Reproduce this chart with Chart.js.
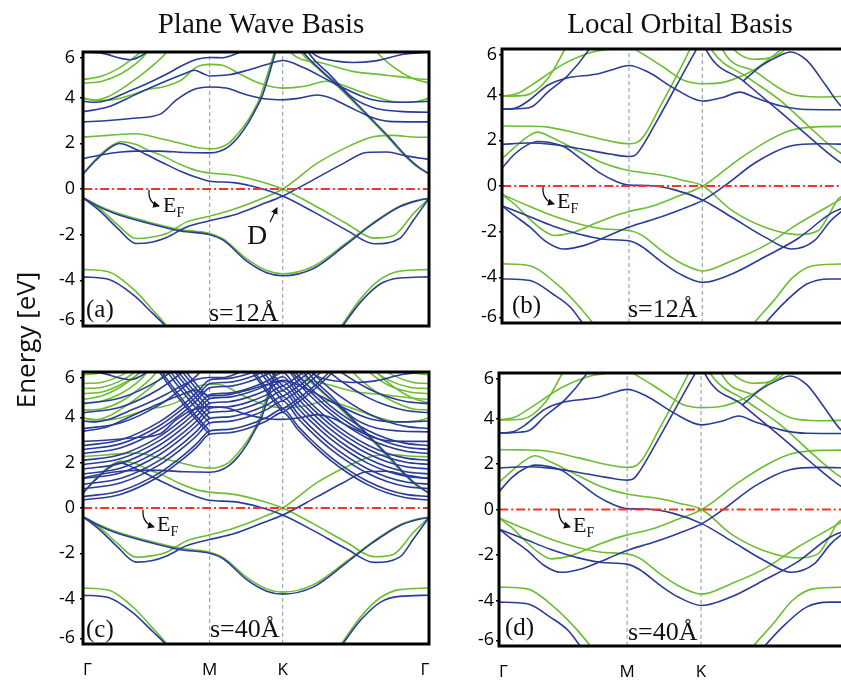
<!DOCTYPE html>
<html><head><meta charset="utf-8">
<script src="https://cdn.jsdelivr.net/npm/chart.js@4.4.1/dist/chart.umd.min.js"></script>
<style>
html,body{margin:0;padding:0;background:#fff;}
body{width:841px;height:682px;overflow:hidden;position:relative;}
canvas{position:absolute;}
.t{position:absolute;font-family:'Liberation Serif','Times New Roman',serif;color:#111;line-height:1;white-space:nowrap;}
.ttl{font-size:29px;transform:translateX(-50%);}
.lab{font-size:25px;}
.sv{font-size:26px;}
.ef{font-size:22px;}
.ef sub{font-size:14px;vertical-align:baseline;position:relative;top:5px;}
#ylab{position:absolute;left:25px;top:340px;transform:translate(-50%,-50%) rotate(-90deg);font-family:'Open Sans',sans-serif;font-size:26px;color:#111;white-space:nowrap;}
svg{position:absolute;left:0;top:0;}
</style></head><body>
<canvas id="pa"></canvas><canvas id="pb"></canvas><canvas id="pc"></canvas><canvas id="pd"></canvas>

<div class="t ttl" style="left:261px;top:9px;">Plane Wave Basis</div>
<div class="t ttl" style="left:680px;top:9px;">Local Orbital Basis</div>
<div id="ylab">Energy [eV]</div>

<div class="t lab" style="left:86px;top:296px;">(a)</div>
<div class="t sv" style="left:209px;top:300px;">s=12Å</div>
<div class="t ef" style="left:163px;top:194px;">E<sub>F</sub></div>
<div class="t" style="left:247px;top:221px;font-size:28px;">D</div>

<div class="t lab" style="left:512px;top:292px;">(b)</div>
<div class="t sv" style="left:628px;top:296px;">s=12Å</div>
<div class="t ef" style="left:557px;top:190px;">E<sub>F</sub></div>

<div class="t lab" style="left:86px;top:616px;">(c)</div>
<div class="t sv" style="left:210px;top:616px;">s=40Å</div>
<div class="t ef" style="left:157px;top:513px;">E<sub>F</sub></div>

<div class="t lab" style="left:505px;top:614px;">(d)</div>
<div class="t sv" style="left:628px;top:619px;">s=40Å</div>
<div class="t ef" style="left:573px;top:514px;">E<sub>F</sub></div>

<svg width="841" height="682" viewBox="0 0 841 682">
<defs><marker id="ah" markerUnits="userSpaceOnUse" markerWidth="8" markerHeight="8" refX="6" refY="3.5" orient="auto"><path d="M0,0 L7,3.5 L0,7 z" fill="#111"/></marker></defs>
<g fill="none" stroke="#111" stroke-width="1.3" marker-end="url(#ah)">
<path d="M149,190 Q148,203 159,206"/>
<path d="M543,187 Q542,200 554,204"/>
<path d="M143,510 Q142,523 154,527"/>
<path d="M559,509 Q558,523 570,527"/>
<path d="M270,222 L277,208"/>
</g></svg>

<script>
// ---------- path / axes ----------
const K_POS = [0, 1, 1.577, 2.732];
const K_LABEL_POS = [0.035, 1, 1.577, 2.70];
const K_LABELS = ['Γ', 'M', 'K', 'Γ'];
const E_MIN = -6, E_MAX = 6;
const Y_TICK_POS = [-5.75, -4, -2, 0, 2, 4, 5.75];
const Y_TICK_LABELS = ['-6', '-4', '-2', '0', '2', '4', '6'];

// ---------- (a) plane wave, s=12 ----------
const A_GREEN = [
 [[0,-3.53],[0.2,-3.62],[0.4,-4.4],[0.55,-5.3],[0.66,-6.0],[0.8,-7.2]],
 [[1.9,-7.2],[2.04,-6.0],[2.2,-4.75],[2.35,-3.95],[2.5,-3.6],[2.732,-3.53]],
 [[0,-0.38],[0.12,-0.72],[0.24,-1.0],[0.5,-1.42],[0.77,-1.78],[1.0,-1.95],[1.11,-2.2],[1.29,-3.05],[1.45,-3.57],[1.577,-3.71],[1.82,-3.38],[2.08,-2.36],[2.29,-1.48],[2.5,-0.75],[2.65,-0.48],[2.732,-0.41]],
 [[0,-0.38],[0.13,-0.85],[0.27,-1.55],[0.42,-2.17],[0.55,-2.1],[0.66,-1.95],[0.82,-1.44],[1.0,-1.19],[1.19,-0.89],[1.4,-0.45],[1.577,0],[1.85,1.13],[2.11,1.9],[2.3,2.3],[2.45,2.35],[2.6,2.28],[2.732,2.26]],
 [[0,0.66],[0.1,1.3],[0.2,1.8],[0.3,2.07],[0.42,1.95],[0.5,1.73],[0.63,1.45],[0.77,1.07],[0.9,0.8],[1.0,0.7],[1.19,0.6],[1.4,0.33],[1.577,0],[1.82,-0.7],[2.08,-1.51],[2.3,-2.15],[2.45,-2.05],[2.61,-1.07],[2.732,-0.41]],
 [[0,2.27],[0.2,2.35],[0.42,2.42],[0.6,2.22],[0.77,2.0],[0.9,1.82],[1.0,1.76],[1.07,1.8],[1.15,2.0],[1.22,2.4],[1.29,2.9],[1.35,3.45],[1.4,4.05],[1.45,4.9],[1.5,5.8],[1.54,6.6]],
 [[1.66,6.6],[1.72,6.0],[1.85,5.3],[2.0,4.55],[2.13,3.85],[2.27,3.05],[2.4,2.3],[2.53,1.51],[2.63,1.0],[2.732,0.66]],
 [[0,4.79],[0.15,4.95],[0.3,5.35],[0.4,5.75],[0.47,6.1],[0.52,6.6]],
 [[0,4.63],[0.15,4.72],[0.3,5.05],[0.42,5.5],[0.5,5.95],[0.56,6.6]],
 [[0,3.97],[0.1,3.9],[0.2,4.05],[0.32,4.44],[0.45,4.95],[0.57,5.5],[0.66,6.0],[0.72,6.6]],
 [[0,3.97],[0.1,3.88],[0.25,3.92],[0.4,4.15],[0.5,4.35],[0.63,4.47],[0.77,4.75],[0.9,5.35],[1.0,5.46],[1.1,5.42],[1.25,5.0],[1.4,4.62],[1.577,4.42],[1.75,4.5],[1.92,4.72],[2.1,4.45],[2.3,4.05],[2.5,3.8],[2.62,3.82],[2.732,3.98]],
 [[1.6,6.6],[1.64,5.98],[1.87,5.54],[2.13,5.15],[2.4,4.98],[2.6,4.85],[2.732,4.79]],
 [[2.25,6.6],[2.32,6.0],[2.45,5.35],[2.6,4.85],[2.732,4.64]]
];
const A_BLUE = [
 [[0,-3.85],[0.2,-3.95],[0.4,-4.65],[0.55,-5.45],[0.65,-6.0],[0.8,-7.2]],
 [[1.9,-7.2],[2.05,-6.0],[2.2,-4.9],[2.35,-4.15],[2.5,-3.9],[2.732,-3.85]],
 [[0,-0.38],[0.12,-0.76],[0.24,-1.05],[0.5,-1.48],[0.77,-1.84],[1.0,-2.0],[1.11,-2.25],[1.29,-3.15],[1.45,-3.67],[1.577,-3.8],[1.82,-3.48],[2.08,-2.42],[2.29,-1.52],[2.5,-0.78],[2.65,-0.5],[2.732,-0.41]],
 [[0,-0.38],[0.13,-0.95],[0.27,-1.7],[0.42,-2.39],[0.55,-2.32],[0.66,-2.12],[0.82,-1.66],[1.0,-1.39],[1.19,-1.14],[1.4,-0.7],[1.577,-0.31],[1.85,0.5],[2.05,1.1],[2.24,1.6],[2.4,1.62],[2.55,1.45],[2.732,1.3]],
 [[0,0.66],[0.1,1.25],[0.2,1.75],[0.29,1.99],[0.4,1.78],[0.5,1.51],[0.63,1.15],[0.77,0.78],[0.9,0.5],[1.0,0.34],[1.19,0.28],[1.4,0.03],[1.577,-0.31],[1.82,-1.0],[2.08,-1.8],[2.3,-2.4],[2.5,-2.17],[2.61,-1.36],[2.732,-0.41]],
 [[0,1.33],[0.15,1.5],[0.3,1.62],[0.42,1.66],[0.6,1.66],[0.8,1.6],[1.0,1.58],[1.08,1.65],[1.16,1.9],[1.23,2.3],[1.3,2.85],[1.36,3.45],[1.41,4.0],[1.46,4.85],[1.51,5.8],[1.55,6.6]],
 [[1.68,6.6],[1.74,6.0],[1.87,5.25],[2.02,4.5],[2.15,3.8],[2.29,3.0],[2.42,2.25],[2.55,1.45],[2.64,1.0],[2.732,0.66]],
 [[0,2.94],[0.2,3.0],[0.4,3.1],[0.61,3.28],[0.74,3.91],[0.87,4.35],[1.0,4.47],[1.13,4.42],[1.29,4.13],[1.45,3.94],[1.577,3.91],[1.7,3.97],[1.85,4.12],[1.95,4.0],[2.1,3.6],[2.3,3.1],[2.45,2.95],[2.732,2.94]],
 [[0,3.38],[0.2,3.6],[0.4,4.1],[0.6,4.6],[0.8,5.05],[0.88,5.2],[0.95,5.05],[1.0,4.95],[1.15,5.0],[1.3,5.2],[1.45,5.45],[1.577,5.63],[1.74,5.32],[2.0,4.58],[2.27,3.93],[2.5,3.8],[2.732,3.84]],
 [[0,3.84],[0.1,3.8],[0.2,3.9],[0.35,4.25],[0.5,4.6],[0.65,5.0],[0.8,5.45],[0.9,5.68],[1.0,5.76],[1.1,5.75],[1.2,5.9],[1.3,6.2],[1.38,6.6]],
 [[1.72,6.6],[1.79,5.9],[1.95,5.0],[2.13,4.0],[2.3,3.55],[2.5,3.4],[2.732,3.36]],
 [[0,6.0],[0.15,5.95],[0.3,5.72],[0.37,5.66],[0.45,5.8],[0.52,6.1],[0.58,6.6]],
 [[1.7,6.6],[1.8,6.0],[1.87,5.76],[2.0,5.6],[2.13,5.54],[2.31,5.61],[2.53,5.9],[2.732,6.0]]
];

// ---------- (b) local orbital, s=12 (also used for (d)) ----------
const B_GREEN = [
 [[0,-3.41],[0.22,-3.49],[0.43,-4.29],[0.59,-5.17],[0.71,-5.97],[0.85,-7.0]],
 [[1.85,-7.0],[1.99,-5.97],[2.14,-5.02],[2.29,-4.0],[2.45,-3.49],[2.732,-3.41]],
 [[0,-0.37],[0.1,-0.8],[0.2,-1.35],[0.3,-1.85],[0.41,-2.17],[0.55,-2.05],[0.75,-1.6],[0.9,-1.28],[1.0,-1.12],[1.2,-0.85],[1.4,-0.42],[1.583,0],[1.87,1.19],[2.1,2.0],[2.27,2.43],[2.5,2.6],[2.732,2.61]],
 [[0,-0.37],[0.2,-0.85],[0.4,-1.3],[0.6,-1.65],[0.8,-1.88],[1.0,-1.95],[1.1,-2.15],[1.25,-2.8],[1.4,-3.35],[1.583,-3.72],[1.81,-3.27],[2.07,-2.61],[2.33,-1.66],[2.55,-0.95],[2.732,-0.37]],
 [[0,1.19],[0.1,1.7],[0.2,2.15],[0.28,2.36],[0.4,2.1],[0.62,1.48],[0.8,1.0],[1.0,0.68],[1.27,0.46],[1.43,0.24],[1.583,0],[1.81,-1.07],[2.07,-1.81],[2.33,-2.13],[2.49,-1.95],[2.58,-1.2],[2.65,-0.55],[2.732,-0.37]],
 [[0,2.63],[0.18,2.62],[0.36,2.58],[0.62,2.27],[0.89,1.92],[1.0,1.85],[1.06,1.9],[1.12,2.21],[1.25,3.53],[1.39,4.99],[1.48,5.99],[1.53,6.6]],
 [[0,3.93],[0.18,3.97],[0.36,4.7],[0.49,5.94],[0.55,6.6]],
 [[0,3.93],[0.12,4.05],[0.23,4.41],[0.49,5.36],[0.7,5.85],[0.86,6.0],[1.0,6.1],[1.06,5.94],[1.27,5.21],[1.43,4.63],[1.583,4.48],[1.75,4.55],[1.9,4.85],[2.0,5.14],[2.1,5.55],[2.2,6.0],[2.3,6.6]],
 [[1.7,6.6],[1.74,5.94],[2.0,4.99],[2.27,4.04],[2.5,3.9],[2.732,3.93]],
 [[1.6,6.6],[1.65,5.97],[1.93,4.77],[2.19,3.75],[2.45,2.43],[2.6,1.7],[2.732,1.19]],
 [[1.75,6.5],[1.85,5.85],[1.98,5.55],[2.1,5.6],[2.2,5.85],[2.3,6.5]]
];
const B_BLUE = [
 [[0,-4.07],[0.22,-4.14],[0.4,-4.73],[0.54,-5.32],[0.63,-5.97],[0.75,-6.9]],
 [[1.95,-6.9],[2.08,-5.97],[2.24,-5.02],[2.4,-4.29],[2.58,-4.07],[2.732,-4.07]],
 [[0,-0.86],[0.1,-1.3],[0.22,-1.8],[0.35,-2.45],[0.48,-2.76],[0.65,-2.6],[0.85,-2.15],[1.0,-1.8],[1.2,-1.45],[1.4,-1.05],[1.583,-0.62],[1.75,0.0],[2.0,1.04],[2.27,1.75],[2.5,1.85],[2.732,1.82]],
 [[0,-0.86],[0.2,-1.3],[0.4,-1.75],[0.6,-2.1],[0.8,-2.33],[1.0,-2.4],[1.1,-2.65],[1.25,-3.3],[1.4,-3.85],[1.583,-4.22],[1.81,-3.85],[2.07,-3.1],[2.33,-2.3],[2.59,-1.2],[2.732,-0.86]],
 [[0,0.78],[0.1,1.4],[0.2,1.8],[0.28,1.95],[0.38,1.9],[0.49,1.72],[0.62,1.2],[0.76,0.61],[0.9,0.2],[1.0,0.04],[1.15,0.02],[1.36,-0.17],[1.583,-0.62],[1.81,-1.37],[2.07,-2.24],[2.28,-2.76],[2.46,-2.39],[2.59,-1.51],[2.732,-0.86]],
 [[0,1.82],[0.2,1.88],[0.4,1.82],[0.62,1.63],[0.85,1.4],[1.0,1.29],[1.05,1.35],[1.1,1.7],[1.23,2.95],[1.36,4.26],[1.49,5.58],[1.54,6.1],[1.57,6.6]],
 [[0,3.36],[0.1,3.38],[0.23,3.46],[0.36,4.11],[0.52,4.85],[0.68,5.94],[0.75,6.6]],
 [[0,3.36],[0.1,3.4],[0.2,3.7],[0.36,4.41],[0.49,4.7],[0.76,4.92],[0.9,5.15],[1.0,5.28],[1.15,4.99],[1.36,4.26],[1.583,3.72],[1.75,3.9],[1.87,4.11],[2.0,3.85],[2.2,3.5],[2.4,3.35],[2.732,3.34]],
 [[1.57,6.6],[1.61,5.94],[1.9,4.6],[2.2,3.2],[2.45,2.0],[2.6,1.3],[2.732,0.78]],
 [[1.9,4.6],[2.05,5.3],[2.19,5.72],[2.27,5.87],[2.4,5.5],[2.55,4.4],[2.67,3.5],[2.732,3.34]]
];

// ---------- (c) extra states at s=40 (plane wave) ----------
const C_VAC_T = [0,0.3,0.6,0.8,0.9,1.0,1.15,1.3,1.45,1.577,1.7,1.8,1.95,2.1,2.25,2.4,2.55,2.732];
const C_VAC_E = [
 [0.35,0.61,1.39,2.21,2.70,3.25,3.32,3.51,3.84,4.22,3.44,2.87,2.12,1.51,1.02,0.67,0.45,0.35],
 [0.5,0.76,1.54,2.36,2.85,3.40,3.47,3.66,3.99,4.37,3.59,3.02,2.27,1.66,1.17,0.82,0.60,0.5],
 [0.85,1.11,1.89,2.71,3.20,3.75,3.82,4.01,4.34,4.72,3.94,3.37,2.62,2.01,1.52,1.17,0.95,0.85],
 [1.05,1.31,2.09,2.91,3.40,3.95,4.02,4.21,4.54,4.92,4.14,3.57,2.82,2.21,1.72,1.37,1.15,1.05],
 [1.3,1.56,2.34,3.16,3.65,4.20,4.27,4.46,4.79,5.17,4.39,3.82,3.07,2.46,1.97,1.62,1.40,1.3],
 [1.5,1.76,2.54,3.36,3.85,4.40,4.47,4.66,4.99,5.37,4.59,4.02,3.27,2.66,2.17,1.82,1.60,1.5],
 [1.72,1.98,2.76,3.58,4.07,4.62,4.69,4.88,5.21,5.59,4.81,4.24,3.49,2.88,2.39,2.04,1.82,1.72],
 [1.92,2.18,2.96,3.78,4.27,4.82,4.89,5.08,5.41,5.79,5.01,4.44,3.69,3.08,2.59,2.24,2.02,1.92],
 [2.1,2.36,3.14,3.96,4.45,5.0,5.07,5.26,5.59,5.97,5.19,4.62,3.87,3.26,2.77,2.42,2.20,2.1],
 [2.4,2.66,3.44,4.26,4.75,5.3,5.37,5.56,5.89,6.27,5.49,4.92,4.17,3.56,3.07,2.72,2.50,2.4],
 [2.58,2.84,3.62,4.44,4.93,5.48,5.55,5.74,6.07,6.45,5.67,5.10,4.35,3.74,3.25,2.90,2.68,2.58],
 [2.75,3.01,3.79,4.61,5.10,5.65,5.72,5.91,6.24,6.62,5.84,5.27,4.52,3.91,3.42,3.07,2.85,2.75],
 [3.5,3.76,4.54,5.36,5.85,6.4,6.47,6.66,6.99,7.37,6.59,6.02,5.27,4.66,4.17,3.82,3.60,3.5],
 [4.2,4.46,5.24,6.06,6.55,7.1,7.17,7.36,7.69,8.07,7.29,6.72,5.97,5.36,4.87,4.52,4.30,4.2],
 [4.6,4.86,5.64,6.46,6.95,7.5,7.57,7.76,8.09,8.47,7.69,7.12,6.37,5.76,5.27,4.92,4.70,4.6]
];
const C_FOLD_M_T = [0.5,0.6,0.7,0.8,0.9,1.0];
const C_FOLD_M_E = [
 [6.88,6.03,5.25,4.53,3.86,3.25],
 [7.03,6.18,5.40,4.68,4.01,3.40],
 [7.38,6.53,5.75,5.03,4.36,3.75],
 [7.58,6.73,5.95,5.23,4.56,3.95],
 [7.83,6.98,6.20,5.48,4.81,4.20],
 [8.03,7.18,6.40,5.68,5.01,4.40],
 [8.25,7.40,6.62,5.90,5.23,4.62],
 [8.45,7.60,6.82,6.10,5.43,4.82]
];
const C_FOLD_KL_T = [1.2,1.3,1.4,1.5,1.577];
const C_FOLD_KL_E = [
 [7.16,6.30,5.50,4.75,4.22],
 [7.31,6.45,5.65,4.90,4.37],
 [7.66,6.80,6.00,5.25,4.72],
 [7.86,7.00,6.20,5.45,4.92],
 [8.11,7.25,6.45,5.70,5.17],
 [8.31,7.45,6.65,5.90,5.37]
];
const C_FOLD_KR_T = [1.577,1.65,1.75,1.85,1.95,2.05];
const C_FOLD_KR_E = [
 [4.22,4.48,4.88,5.35,5.87,6.45],
 [4.37,4.63,5.03,5.50,6.02,6.60],
 [4.72,4.98,5.38,5.85,6.37,6.95],
 [4.92,5.18,5.58,6.05,6.57,7.15],
 [5.17,5.43,5.83,6.30,6.82,7.40],
 [5.37,5.63,6.03,6.50,7.02,7.60]
];
const C_GREEN_EXTRA = [
 [[0,5.89],[0.1,5.92],[0.2,6.05],[0.3,6.3],[0.38,6.7]],
 [[0,5.49],[0.15,5.55],[0.3,5.85],[0.4,6.2],[0.48,6.7]],
 [[0,5.27],[0.15,5.33],[0.3,5.62],[0.42,6.05],[0.5,6.6]],
 [[0,5.05],[0.15,5.12],[0.3,5.45],[0.44,5.95],[0.52,6.6]],
 [[0,4.32],[0.15,4.38],[0.3,4.7],[0.45,5.3],[0.58,6.0],[0.64,6.6]],
 [[2.35,6.7],[2.45,6.3],[2.55,6.05],[2.65,5.92],[2.732,5.89]],
 [[2.25,6.7],[2.35,6.2],[2.45,5.85],[2.6,5.55],[2.732,5.49]],
 [[2.2,6.6],[2.3,6.05],[2.42,5.62],[2.58,5.33],[2.732,5.27]],
 [[2.15,6.6],[2.27,5.95],[2.4,5.45],[2.58,5.12],[2.732,5.05]],
 [[2.05,6.6],[2.13,6.0],[2.27,5.3],[2.45,4.7],[2.6,4.38],[2.732,4.32]]
];

// ---------- build ----------
const BLUE = '#2a3b98', GREEN = '#6cbd31';
const zip = (T, E) => T.map((t, i) => [t, E[i]]);
const C_BLUE_EXTRA = [].concat(
  C_VAC_E.map(e => zip(C_VAC_T, e)),
  C_FOLD_M_E.map(e => zip(C_FOLD_M_T, e)),
  C_FOLD_KL_E.map(e => zip(C_FOLD_KL_T, e)),
  C_FOLD_KR_E.map(e => zip(C_FOLD_KR_T, e))
);

const bandSet = (bands, color) => bands.map(b => ({
  data: b.map(p => ({x: p[0], y: p[1]})),
  borderColor: color, borderWidth: 1.6, pointRadius: 0, fill: false,
  cubicInterpolationMode: 'monotone'
}));

const framePlugin = {
  id: 'frame',
  afterDraw(chart) {
    const {ctx, chartArea: a} = chart;
    ctx.save();
    ctx.strokeStyle = '#000'; ctx.lineWidth = 3;
    ctx.strokeRect(a.left, a.top, a.right - a.left, a.bottom - a.top);
    ctx.restore();
  }
};

const W_Y = 70, PAD_T = 20, PAD_R = 20, H_X = 40;
function makePanel(id, g, greens, blues, showX, yPad) {
  const cv = document.getElementById(id);
  const w = g.w + W_Y + PAD_R, h = g.h + PAD_T + H_X;
  cv.width = w; cv.height = h;
  cv.style.width = w + 'px'; cv.style.height = h + 'px';
  cv.style.left = (g.left - W_Y) + 'px'; cv.style.top = (g.top - PAD_T) + 'px';
  const datasets = [
    {data: [{x: K_POS[0], y: 0}, {x: K_POS[3], y: 0}], borderColor: '#f0352b', borderWidth: 2, borderDash: [9, 3, 2, 3], pointRadius: 0},
    ...bandSet(blues, BLUE),
    ...bandSet(greens, GREEN),
    {data: [{x: K_POS[1], y: E_MIN}, {x: K_POS[1], y: E_MAX}], borderColor: '#869898', borderWidth: 1, borderDash: [4, 3], pointRadius: 0},
    {data: [{x: K_POS[2], y: E_MIN}, {x: K_POS[2], y: E_MAX}], borderColor: '#869898', borderWidth: 1, borderDash: [4, 3], pointRadius: 0}
  ];
  new Chart(cv, {
    type: 'line',
    data: {datasets},
    options: {
      responsive: false, animation: false, devicePixelRatio: 1, events: [],
      layout: {padding: {left: 0, top: PAD_T, right: PAD_R, bottom: 0}},
      elements: {line: {capBezierPoints: false, tension: 0.4}},
      plugins: {legend: {display: false}, tooltip: {enabled: false}},
      scales: {
        x: {
          type: 'linear', min: K_POS[0], max: K_POS[3],
          afterFit: s => { s.height = H_X; },
          afterBuildTicks: s => { s.ticks = K_LABEL_POS.map(v => ({value: v})); },
          grid: {display: false, drawTicks: false}, border: {display: false},
          ticks: {display: showX, padding: 16, autoSkip: false, maxRotation: 0,
                  font: {family: 'Open Sans', size: 17}, color: '#000',
                  callback: (v, i) => K_LABELS[i]}
        },
        y: {
          min: E_MIN, max: E_MAX,
          afterFit: s => { s.width = W_Y; },
          afterBuildTicks: s => { s.ticks = Y_TICK_POS.map(v => ({value: v})); },
          grid: {display: true, drawOnChartArea: false, drawTicks: true, tickLength: 3, color: '#000', lineWidth: 1.5},
          border: {display: false},
          ticks: {padding: yPad, autoSkip: false, font: {family: 'Open Sans', size: 18}, color: '#000',
                  callback: (v, i) => Y_TICK_LABELS[i]}
        }
      }
    },
    plugins: [framePlugin]
  });
}

makePanel('pa', {left: 83, top: 52, w: 346, h: 274}, A_GREEN, A_BLUE, false, 5);
makePanel('pb', {left: 502, top: 49, w: 347, h: 274}, B_GREEN, B_BLUE, false, 2);
makePanel('pc', {left: 83, top: 372, w: 346, h: 272}, A_GREEN.concat(C_GREEN_EXTRA), A_BLUE.concat(C_BLUE_EXTRA), true, 5);
makePanel('pd', {left: 499, top: 373, w: 350, h: 273}, B_GREEN, B_BLUE, true, 2);
</script>
</body></html>
